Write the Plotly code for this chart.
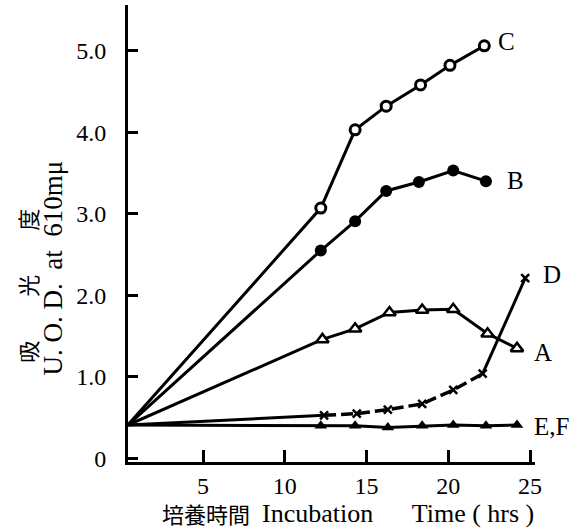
import plotly.graph_objects as go

# Incubation time (hrs) and optical density at 610 mμ for each culture
start_time = 0.4
start_od = 0.41

c_time = [12.2, 14.3, 16.2, 18.3, 20.1, 22.2]
c_od = [3.07, 4.03, 4.32, 4.58, 4.82, 5.06]

b_time = [12.2, 14.3, 16.2, 18.2, 20.3, 22.3]
b_od = [2.55, 2.91, 3.28, 3.39, 3.53, 3.40]

a_time = [12.3, 14.3, 16.4, 18.4, 20.3, 22.4, 24.2]
a_od = [1.46, 1.59, 1.79, 1.82, 1.83, 1.53, 1.35]

d_time = [12.4, 14.4, 16.3, 18.4, 20.3, 22.1, 24.7]
d_od = [0.53, 0.55, 0.60, 0.67, 0.84, 1.04, 2.21]

ef_time = [12.2, 14.3, 16.3, 18.4, 20.3, 22.3, 24.2]
ef_od = [0.40, 0.40, 0.38, 0.40, 0.41, 0.40, 0.41]

x_ticks = [5, 10, 15, 20, 25]
y_ticks = [0, 1, 2, 3, 4, 5]
y_tick_text = ["0", "1.0", "2.0", "3.0", "4.0", "5.0"]

INK = "black"
SERIF = "Liberation Serif, Times New Roman, serif"
CJK = "Noto Sans CJK JP, serif"
LW = 3

fig = go.Figure()


def with_start(t, v):
    return [start_time] + t, [start_od] + v


# C: open circles, solid line
x, y = with_start(c_time, c_od)
fig.add_trace(go.Scatter(
    x=x, y=y, mode="lines", line=dict(color=INK, width=LW)))
fig.add_trace(go.Scatter(
    x=c_time, y=c_od, mode="markers",
    marker=dict(symbol="circle", size=10, color="white", line=dict(color=INK, width=3))))

# B: filled circles, solid line
x, y = with_start(b_time, b_od)
fig.add_trace(go.Scatter(
    x=x, y=y, mode="lines", line=dict(color=INK, width=LW)))
fig.add_trace(go.Scatter(
    x=b_time, y=b_od, mode="markers",
    marker=dict(symbol="circle", size=12, color=INK)))

# A: open triangles, solid line
x, y = with_start(a_time, a_od)
fig.add_trace(go.Scatter(
    x=x, y=y, mode="lines", line=dict(color=INK, width=LW)))
fig.add_trace(go.Scatter(
    x=a_time, y=a_od, mode="markers",
    marker=dict(symbol="triangle-up", size=11, color="white", line=dict(color=INK, width=2.5))))

# D: crosses; solid first and last segment, dashed in between
fig.add_trace(go.Scatter(
    x=[start_time, d_time[0], None, d_time[-2], d_time[-1]],
    y=[start_od, d_od[0], None, d_od[-2], d_od[-1]],
    mode="lines", line=dict(color=INK, width=LW)))
fig.add_trace(go.Scatter(
    x=d_time[:-1], y=d_od[:-1], mode="lines",
    line=dict(color=INK, width=3.5, dash="12px,5px")))
fig.add_trace(go.Scatter(
    x=d_time, y=d_od, mode="markers",
    marker=dict(symbol="x-thin", size=8, color=INK, line=dict(color=INK, width=2.5))))

# E, F: filled triangles
x, y = with_start(ef_time, ef_od)
fig.add_trace(go.Scatter(
    x=x, y=y, mode="lines", line=dict(color=INK, width=LW)))
fig.add_trace(go.Scatter(
    x=ef_time, y=ef_od, mode="markers",
    marker=dict(symbol="triangle-up", size=11, color=INK)))

# common starting point
fig.add_trace(go.Scatter(
    x=[start_time], y=[start_od], mode="markers",
    marker=dict(symbol="circle", size=8, color=INK), cliponaxis=False))

# curve labels
label_font = dict(family=SERIF, size=25, color=INK)
labels = [
    ("C", c_time[-1], c_od[-1], 22, 4, "center"),
    ("B", b_time[-1], b_od[-1], 30, 1, "center"),
    ("D", d_time[-1], d_od[-1], 27, 4, "center"),
    ("A", a_time[-1], a_od[-1], 26, -4, "center"),
    ("E,F", ef_time[-1], ef_od[-1], 15, -1, "left"),
]
for text, lx, ly, dx, dy, anchor in labels:
    fig.add_annotation(x=lx, y=ly, text=text, showarrow=False, xshift=dx, yshift=dy,
                       xanchor=anchor, yanchor="middle", font=label_font)

# axis titles
fig.add_annotation(x=-0.248, y=0.386, xref="paper", yref="paper", text="吸　　光　　度",
                   textangle=-90, showarrow=False, xanchor="center", yanchor="middle",
                   font=dict(family=CJK, size=22, color=INK))
fig.add_annotation(x=-0.185, y=0.425, xref="paper", yref="paper", text="U. O. D.  at  610mμ",
                   textangle=-90, showarrow=False, xanchor="center", yanchor="middle",
                   font=dict(family=SERIF, size=27, color=INK))
fig.add_annotation(x=0.305, y=-0.112, xref="paper", yref="paper", text="培養時間",
                   showarrow=False, xanchor="right", yanchor="middle",
                   font=dict(family=CJK, size=22, color=INK))
fig.add_annotation(x=0.325, y=-0.112, xref="paper", yref="paper",
                   text="Incubation      Time ( hrs )",
                   showarrow=False, xanchor="left", yanchor="middle",
                   font=dict(family=SERIF, size=26, color=INK))

fig.update_layout(
    width=571, height=530,
    margin=dict(l=128, r=36, t=5, b=68, pad=0),
    paper_bgcolor="white", plot_bgcolor="white",
    showlegend=False,
    xaxis=dict(range=[0.41, 25.3], tickvals=x_ticks, ticks="inside", ticklen=12,
               tickwidth=3, tickcolor=INK, showline=True, linewidth=3, linecolor=INK,
               showgrid=False, zeroline=False, ticklabelstandoff=0,
               tickfont=dict(family=SERIF, size=24, color=INK)),
    yaxis=dict(range=[-0.043, 5.56], tickvals=y_ticks, ticktext=y_tick_text,
               ticks="inside", ticklen=10, tickwidth=3, tickcolor=INK,
               showline=True, linewidth=3, linecolor=INK, showgrid=False,
               zeroline=False, ticklabelstandoff=14,
               tickfont=dict(family=SERIF, size=24, color=INK)),
)

fig.write_html("out.html")
